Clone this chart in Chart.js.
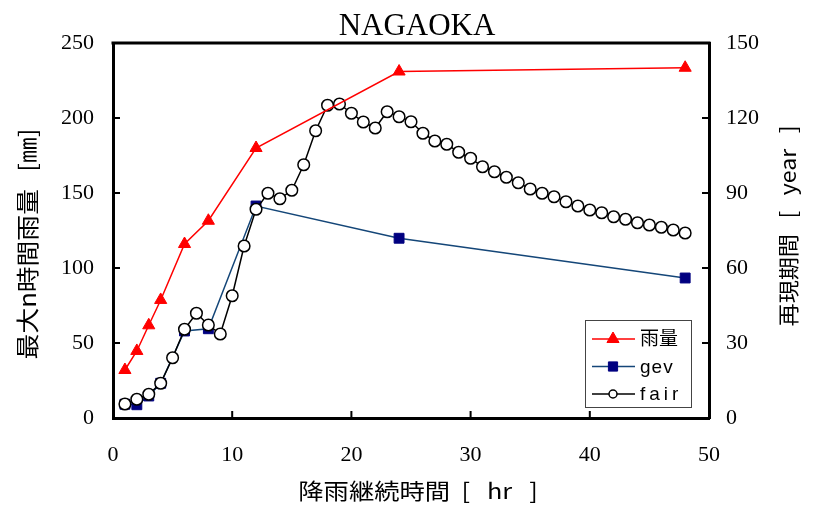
<!DOCTYPE html>
<html>
<head>
<meta charset="utf-8">
<script src="https://cdn.jsdelivr.net/npm/chart.js@4.4.0/dist/chart.umd.min.js"></script>
<style>
  body { margin: 0; background: #fff; }
  #wrap { width: 813px; height: 509px; }
</style>
</head>
<body>
<div id="wrap"><canvas id="chart" width="813" height="509"></canvas></div>
<script>
// rainfall (mm) at each duration
const rainHours = [1, 2, 3, 4, 6, 8, 12, 24, 48];
const rainValues = [32, 44.7, 61.8, 78.7, 116, 131.5, 180, 231, 233.5];

// return period (year), gev fit
const gevHours = [1, 2, 3, 4, 6, 8, 12, 24, 48];
const gevValues = [5.5, 5.3, 8.8, 13.9, 34.8, 35.7, 84.8, 71.9, 56];

// return period (year), fair, every hour 1..48
const fairHours = [1, 2, 3, 4, 5, 6, 7, 8, 9, 10, 11, 12, 13, 14, 15, 16,
  17, 18, 19, 20, 21, 22, 23, 24, 25, 26, 27, 28, 29, 30, 31, 32,
  33, 34, 35, 36, 37, 38, 39, 40, 41, 42, 43, 44, 45, 46, 47, 48];
const fairValues = [5.6, 7.5, 9.5, 13.9, 24.1, 35.5, 41.9, 37.2, 33.6, 48.9, 68.8, 83.5,
  89.9, 87.7, 91.1, 101.3, 114.9, 125.1, 125.6, 121.9, 118.4, 116, 122.5, 120.5,
  118.5, 113.9, 110.8, 109.5, 106.3, 103.9, 100.5, 98.5, 96.3, 94.1, 91.6, 89.9,
  88.5, 86.5, 84.8, 83.2, 82.1, 80.5, 79.5, 78.1, 77.2, 76.3, 75.2, 74];

const seriesNames = ['雨量', 'gev', 'fair'];
const xTicks = [0, 10, 20, 30, 40, 50];
const yTicks = [0, 50, 100, 150, 200, 250];
const y2Ticks = [0, 30, 60, 90, 120, 150];

const chartTitle = 'NAGAOKA';
const xTitle = '降雨継続時間  [   hr   ]';
const yTitle = '最大n時間雨量   [㎜]';
const y2Title = '再現期間   [   year   ]';

const toPoints = (xs, ys) => xs.map((x, i) => ({ x: x, y: ys[i] }));

const serif = '"Liberation Serif", "Times New Roman", serif';
const gothic = '"Noto Sans CJK JP", sans-serif';

function stretchedText(ctx, text, x, y, rot, font, sx) {
  ctx.save();
  ctx.translate(x, y);
  ctx.rotate(rot);
  ctx.scale(sx, 1);
  ctx.font = font;
  ctx.fillStyle = '#000';
  ctx.textAlign = 'center';
  ctx.textBaseline = 'middle';
  ctx.fillText(text, 0, 0);
  ctx.restore();
}

const decor = {
  id: 'decor',
  afterDraw(chart) {
    const { ctx, chartArea: a, scales } = chart;
    ctx.save();
    ctx.strokeStyle = '#000';
    ctx.lineCap = 'butt';

    // top frame line
    ctx.lineWidth = 3;
    ctx.beginPath();
    ctx.moveTo(a.left - 1.5, a.top);
    ctx.lineTo(a.right + 1.5, a.top);
    ctx.stroke();

    // inward tick marks
    ctx.lineWidth = 2;
    ctx.beginPath();
    scales.x.ticks.forEach(t => {
      const px = scales.x.getPixelForValue(t.value);
      ctx.moveTo(px, a.bottom);
      ctx.lineTo(px, a.bottom - 7);
    });
    scales.y.ticks.forEach(t => {
      const py = scales.y.getPixelForValue(t.value);
      ctx.moveTo(a.left, py);
      ctx.lineTo(a.left + 7, py);
    });
    scales.y2.ticks.forEach(t => {
      const py = scales.y2.getPixelForValue(t.value);
      ctx.moveTo(a.right, py);
      ctx.lineTo(a.right - 7, py);
    });
    ctx.stroke();

    // title and axis titles
    ctx.font = '31px ' + serif;
    ctx.fillStyle = '#000';
    ctx.textAlign = 'center';
    ctx.textBaseline = 'alphabetic';
    ctx.fillText(chartTitle, 417, 35);
    stretchedText(ctx, xTitle, 418, 491, 0, '22px ' + gothic, 1.15);
    stretchedText(ctx, yTitle, 27, 244, -Math.PI / 2, '23px ' + gothic, 1.12);
    stretchedText(ctx, y2Title, 788, 226, -Math.PI / 2, '21px ' + gothic, 1.1);

    // legend box
    const lx = 585, ly = 320, lw = 106, lh = 87;
    ctx.fillStyle = '#fff';
    ctx.fillRect(lx, ly, lw, lh);
    ctx.strokeStyle = '#444';
    ctx.lineWidth = 1;
    ctx.strokeRect(lx + 0.5, ly + 0.5, lw, lh);

    const rows = [339, 366.5, 394];
    const sizes = [7, 6.5, 4];
    chart.data.datasets.forEach((ds, i) => {
      const y = rows[i];
      ctx.strokeStyle = ds.borderColor;
      ctx.lineWidth = 1.5;
      ctx.beginPath();
      ctx.moveTo(592, y);
      ctx.lineTo(635, y);
      ctx.stroke();
      ctx.fillStyle = ds.pointBackgroundColor;
      ctx.strokeStyle = ds.pointBorderColor;
      ctx.lineWidth = ds.pointBorderWidth;
      Chart.helpers.drawPoint(ctx, {
        pointStyle: ds.pointStyle, radius: sizes[i], rotation: 0, borderWidth: ds.pointBorderWidth
      }, 613, y);
      ctx.fillStyle = '#000';
      ctx.textAlign = 'left';
      ctx.textBaseline = 'middle';
      ctx.font = '19px "Liberation Sans", ' + gothic;
      ctx.letterSpacing = i === 2 ? '4px' : (i === 1 ? '1px' : '0px');
      ctx.fillText(seriesNames[i], 640, y + 1);
      ctx.letterSpacing = '0px';
    });
    ctx.restore();
  }
};

new Chart(document.getElementById('chart'), {
  type: 'line',
  data: {
    datasets: [
      {
        label: seriesNames[0],
        data: toPoints(rainHours, rainValues),
        yAxisID: 'y',
        borderColor: '#ff0000',
        borderWidth: 1.5,
        pointStyle: 'triangle',
        pointRadius: 7,
        pointBackgroundColor: '#ff0000',
        pointBorderColor: '#ff0000',
        pointBorderWidth: 1,
        order: 0
      },
      {
        label: seriesNames[1],
        data: toPoints(gevHours, gevValues),
        yAxisID: 'y2',
        borderColor: '#144678',
        borderWidth: 1.5,
        pointStyle: 'rect',
        pointRadius: 7,
        pointBackgroundColor: '#000080',
        pointBorderColor: '#000080',
        pointBorderWidth: 1,
        order: 2
      },
      {
        label: seriesNames[2],
        data: toPoints(fairHours, fairValues),
        yAxisID: 'y2',
        borderColor: '#000000',
        borderWidth: 1.5,
        pointStyle: 'circle',
        pointRadius: 5.8,
        pointBackgroundColor: '#ffffff',
        pointBorderColor: '#000000',
        pointBorderWidth: 1.5,
        order: 1
      }
    ]
  },
  options: {
    responsive: false,
    animation: false,
    layout: { padding: { top: 43, left: 0, right: 0, bottom: 0 } },
    plugins: {
      legend: { display: false },
      title: { display: false },
      tooltip: { enabled: false }
    },
    elements: { line: { tension: 0 } },
    scales: {
      x: {
        type: 'linear',
        min: 0,
        max: 50,
        afterFit: s => { s.height = 91; },
        afterBuildTicks: s => { s.ticks = xTicks.map(v => ({ value: v })); },
        grid: { display: false, drawTicks: false },
        border: { display: true, color: '#000', width: 3 },
        ticks: { color: '#000', padding: 24, font: { family: serif, size: 22 } }
      },
      y: {
        type: 'linear',
        position: 'left',
        min: 0,
        max: 250,
        afterFit: s => { s.width = 113; },
        afterBuildTicks: s => { s.ticks = yTicks.map(v => ({ value: v })); },
        grid: { display: false, drawTicks: false },
        border: { display: true, color: '#000', width: 3 },
        ticks: { color: '#000', padding: 19, font: { family: serif, size: 22 } }
      },
      y2: {
        type: 'linear',
        position: 'right',
        min: 0,
        max: 150,
        afterFit: s => { s.width = 104; },
        afterBuildTicks: s => { s.ticks = y2Ticks.map(v => ({ value: v })); },
        grid: { display: false, drawTicks: false },
        border: { display: true, color: '#000', width: 3 },
        ticks: { color: '#000', padding: 17, font: { family: serif, size: 22 } }
      }
    }
  },
  plugins: [decor]
});
</script>
</body>
</html>
